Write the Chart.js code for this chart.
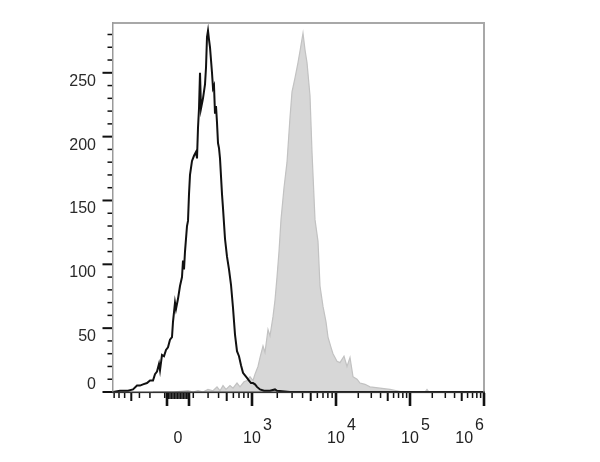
<!DOCTYPE html>
<html><head><meta charset="utf-8">
<script src="https://cdn.jsdelivr.net/npm/chart.js@4/dist/chart.umd.min.js"></script>
<style>html,body{margin:0;padding:0;background:#fff;}#wrap{width:600px;height:462px;position:relative;}</style>
</head><body><div id="wrap"><canvas id="c"></canvas></div>
<script>
// Histogram bins: display channel (biexponential axis, 0..371) and event count
const unstainedChannel = [0,7,15,20,24,27,30,34,37,40,42,44,46,47,49,51,53,55,57,59,60,62,63,65,67,69,70,71,72,74,75,76,77,79,81,83,84,85,86,87,88,90,92,93,94,95,96,97,98,99,100,101,102,103,104,105,106,107,109,110,112,114,116,118,120,122,124,126,128,130,132,134,136,138,140,142,144,147,151,157,162,164,177,371];
const unstainedCount = [0,1,1,2,5,5,6,7,9,9,14,16,22,17,29,28,33,35,41,43,55,70,65,73,83,90,103,96,110,130,134,155,170,181,185,188,183,207,222,250,222,230,241,254,278,283,276,270,260,250,238,240,218,224,211,195,191,183,155,144,120,106,96,84,66,45,32,28,21,15,13,11,9,7,7,6,4,2,1,1,2,1,0,0];
const stainedChannel = [40,60,75,80,85,90,95,100,104,107,110,113,117,120,124,127,131,134,137,140,142,145,147,150,152,155,157,160,162,164,166,168,171,174,177,179,182,185,187,190,192,194,197,199,202,205,207,210,213,215,218,220,224,227,231,234,237,240,244,247,252,257,267,277,284,290,312,314,316,371];
const stainedCount = [0,0,1,0,1,0,2,1,4,1,5,2,5,3,7,4,8,9,12,9,14,20,27,36,31,49,44,59,72,90,110,135,160,180,215,235,246,258,267,281,268,258,232,188,135,118,83,67,55,43,35,30,24,23,28,20,27,12,10,7,6,4,3,2,1,0,0,2,0,0];

// Axis ticks
const yTickValues = [0,50,100,150,200,250];
const yTickLabels = ['0','50','100','150','200','250'];
const yMinorStep = 10;
const xZeroChannel = 64;
const xZeroLabel = '0';
const xDecadeBase = '10';
const xDecadeExponents = ['3','4','5','6'];
const xDecadeChannels = [139,223,297,371];
const xLinearCenter = 66;
const xClusterRange = [54,76];

const X_MIN = 0, X_MAX = 371, Y_MIN = 0, Y_MAX = 289;

const toPts = (xs, ys) => xs.map((x,i)=>({x, y: ys[i]}));

const axesPlugin = {
  id: 'flowAxes',
  afterDatasetsDraw(chart) {
    const {ctx, chartArea: a, scales: {x, y}} = chart;
    ctx.save();
    ctx.fillStyle = '#a8a8a8';
    ctx.fillRect(a.left, a.top - 1, a.right - a.left + 1, 2);
    ctx.fillRect(a.right - 1, a.top - 1, 2, a.bottom - a.top + 1);
    ctx.fillStyle = '#9a9a9a';
    ctx.fillRect(a.left - 1, a.top - 1, 1.5, a.bottom - a.top + 1);
    ctx.fillStyle = '#333';
    ctx.fillRect(a.left - 1, a.bottom - 0.5, a.right - a.left + 2, 1.6);

    ctx.fillStyle = '#111';
    for (let v = Y_MIN; v <= Y_MAX; v += yMinorStep) {
      const py = y.getPixelForValue(v);
      const major = yTickValues.includes(v);
      const len = major ? 9.5 : 4.5, w = major ? 2 : 1.5;
      ctx.fillRect(a.left - 1 - len, py - w/2, len, w);
    }
    ctx.font = '16px "Liberation Sans", Arial, sans-serif';
    ctx.fillStyle = '#2a2a2a';
    ctx.textAlign = 'right';
    yTickValues.forEach((v,i) => {
      const py = y.getPixelForValue(v);
      if (v === 0) { ctx.textBaseline = 'bottom'; ctx.fillText(yTickLabels[i], 96, py + 1); }
      else { ctx.textBaseline = 'top'; ctx.fillText(yTickLabels[i], 96, py + 0.5); }
    });

    ctx.fillStyle = '#111';
    const xt = (ch, len, w) => {
      if (ch < X_MIN - 0.5 || ch > X_MAX + 0.5) return;
      const px = x.getPixelForValue(ch);
      ctx.fillRect(px - w/2, a.bottom + 1, w, len);
    };
    const c = xDecadeChannels;
    c.forEach(ch => xt(ch, 13, 2.6));
    for (let i = 0; i < c.length - 1; i++) {
      for (let k = 2; k <= 9; k++) {
        const p = c[i] + Math.log10(k) * (c[i+1] - c[i]);
        xt(p, k === 5 ? 8 : 5, k === 5 ? 2 : 1.5);
      }
    }
    for (let k = 2; k <= 9; k++) {
      const p = c[0] + Math.log10(k/10) * (c[1] - c[0]);
      xt(p, k === 5 ? 8 : 5, k === 5 ? 2 : 1.5);
      xt(2*xLinearCenter - p, k === 5 ? 8 : 5, k === 5 ? 2 : 1.5);
    }
    for (let ch = xClusterRange[0]; ch <= xClusterRange[1]; ch += 1.5) xt(ch, 6, 1.5);
    xt(xClusterRange[0], 13, 2.6); xt(xClusterRange[1], 13, 2.6);

    ctx.fillStyle = '#222';
    ctx.textBaseline = 'alphabetic';
    ctx.textAlign = 'center';
    ctx.font = '16px "Liberation Sans", Arial, sans-serif';
    ctx.fillText(xZeroLabel, x.getPixelForValue(xZeroChannel) + 1, 443);
    ctx.textAlign = 'left';
    xDecadeExponents.forEach((e, i) => {
      const px = x.getPixelForValue(c[i]);
      ctx.font = '16px "Liberation Sans", Arial, sans-serif';
      const wb = ctx.measureText(xDecadeBase).width;
      const we = ctx.measureText(e).width;
      let left = px - wb/2;
      const total = wb + 2 + we;
      if (left + total > a.right) left = a.right - total;
      ctx.fillText(xDecadeBase, left, 443);
      ctx.fillText(e, left + wb + 2, 430);
    });
    ctx.restore();
  }
};

new Chart(document.getElementById('c'), {
  type: 'line',
  data: {
    datasets: [
      { label: 'Unstained', data: toPts(unstainedChannel, unstainedCount),
        borderColor: '#111', borderWidth: 2, pointRadius: 0, fill: false, tension: 0, clip: 6 },
      { label: 'Stained', data: toPts(stainedChannel, stainedCount),
        borderColor: '#c2c2c2', borderWidth: 1.2, backgroundColor: '#d7d7d7',
        pointRadius: 0, fill: 'origin', tension: 0, clip: 6 }
    ]
  },
  options: {
    responsive: true, maintainAspectRatio: false, animation: false,
    layout: { padding: { left: 113, right: 116, top: 23, bottom: 70 } },
    plugins: { legend: { display: false }, tooltip: { enabled: false } },
    scales: {
      x: { type: 'linear', min: X_MIN, max: X_MAX, display: false },
      y: { type: 'linear', min: Y_MIN, max: Y_MAX, display: false }
    }
  },
  plugins: [axesPlugin]
});
</script></body></html>
